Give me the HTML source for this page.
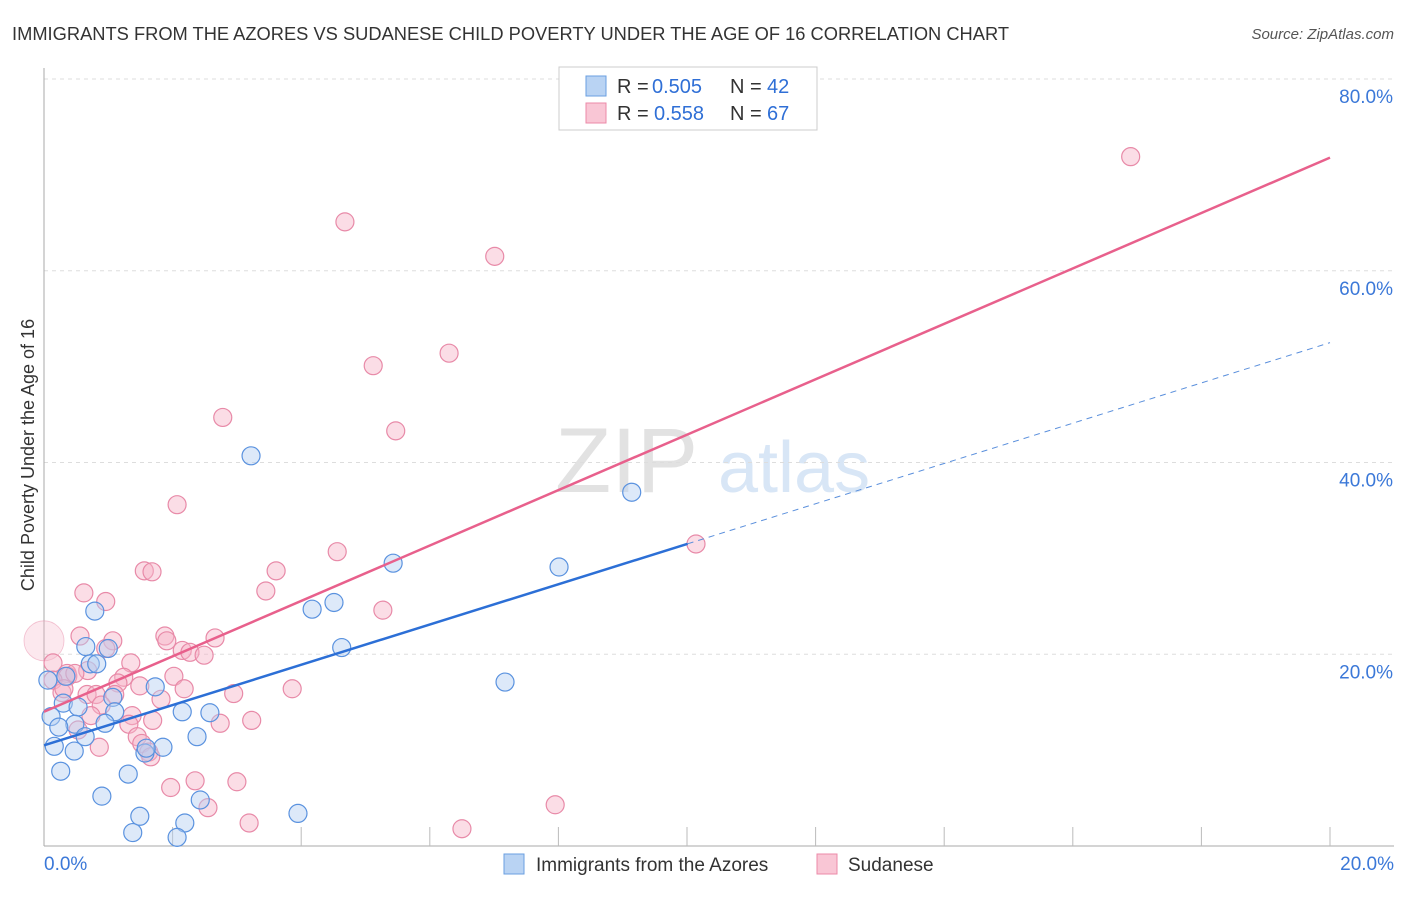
<!DOCTYPE html>
<html><head><meta charset="utf-8"><style>
body{margin:0;background:#fff;font-family:"Liberation Sans",sans-serif}
svg text{font-family:"Liberation Sans",sans-serif}
</style></head><body>
<svg width="1406" height="892">
<text x="12" y="40" font-size="18.3" fill="#333" textLength="997">IMMIGRANTS FROM THE AZORES VS SUDANESE CHILD POVERTY UNDER THE AGE OF 16 CORRELATION CHART</text>
<text x="1394" y="39" font-size="15" fill="#555" text-anchor="end" font-style="italic">Source: ZipAtlas.com</text>
<text x="555" y="492" font-size="92" fill="#e2e2e2" font-family="Liberation Serif">ZIP</text>
<text x="718" y="492" font-size="72" fill="#d8e6f6">atlas</text>
<g id="grid"></g><g id="axes"></g><g id="pts"></g><g id="lines"></g>
<text transform="translate(34,455) rotate(-90)" font-size="18" fill="#333" text-anchor="middle">Child Poverty Under the Age of 16</text>
<g>
<rect x="559" y="67" width="258" height="63" fill="#fff" stroke="#ccc"/>
<rect x="586" y="76" width="20" height="20" fill="#b9d3f3" stroke="#6a9fe0"/>
<rect x="586" y="103" width="20" height="20" fill="#f9c6d5" stroke="#ec8aa8"/>
<text y="93" font-size="20" fill="#333"><tspan x="617">R = </tspan><tspan x="652" fill="#2f6fd6">0.505</tspan><tspan x="730">N = </tspan><tspan x="767" fill="#2f6fd6">42</tspan></text>
<text y="120" font-size="20" fill="#333"><tspan x="617">R = </tspan><tspan x="654" fill="#2f6fd6">0.558</tspan><tspan x="730">N = </tspan><tspan x="767" fill="#2f6fd6">67</tspan></text>
</g>
<g>
<rect x="504" y="854" width="20" height="20" fill="#b9d3f3" stroke="#6a9fe0"/>
<text x="536" y="871" font-size="19" fill="#333">Immigrants from the Azores</text>
<rect x="817" y="854" width="20" height="20" fill="#f9c6d5" stroke="#ec8aa8"/>
<text x="848" y="871" font-size="19" fill="#333">Sudanese</text>
</g>
</svg>
<script>
const yTicks=[20,40,60,80];
const xTickLabels=["0.0%","20.0%"];
const blueX=[3.22,9.14,5.43,8.01,4.51,4.17,0.79,4.63,7.17,0.65,1.0,0.72,0.82,0.06,0.34,1.73,1.07,0.3,0.53,1.10,2.15,2.58,0.11,0.48,0.95,0.23,0.64,2.38,0.16,1.85,0.47,1.57,1.59,0.26,1.31,0.9,2.43,1.49,3.95,2.19,1.38,2.07];
const blueY=[40.7,36.9,29.5,29.1,25.4,24.7,24.5,20.7,17.1,20.8,20.6,19.0,19.0,17.3,17.7,16.6,15.5,14.9,14.5,14.0,14.0,13.9,13.5,12.7,12.8,12.4,11.4,11.4,10.4,10.3,9.9,9.7,10.2,7.8,7.5,5.2,4.8,3.1,3.4,2.4,1.4,0.9];
const pinkX=[16.9,4.68,7.01,5.12,6.30,2.78,5.47,2.07,10.14,4.56,1.56,1.68,3.61,3.45,0.62,0.96,5.27,0,0.56,1.07,1.88,1.91,2.66,2.15,2.27,2.49,0.96,1.35,0.14,0.36,0.37,0.68,2.02,1.24,1.15,0.14,2.18,3.86,0.28,0.67,0.81,1.10,2.95,1.82,0.89,0.73,1.37,1.69,3.23,2.74,1.32,0.53,1.45,1.52,1.63,0.86,1.66,2.35,3.0,1.97,2.55,7.95,3.19,6.5,0.31,1.49,0.48];
const pinkY=[71.9,65.1,61.5,50.1,51.4,44.7,43.3,35.6,31.5,30.7,28.7,28.6,28.7,26.6,26.4,25.5,24.6,21.4,21.9,21.4,21.9,21.4,21.7,20.4,20.2,19.9,20.6,19.1,19.1,18.0,17.7,18.3,17.7,17.6,17.0,17.3,16.4,16.4,16.0,15.8,15.8,15.8,15.9,15.3,14.7,13.6,13.6,13.1,13.1,12.8,12.7,12.1,11.4,10.7,9.8,10.3,9.3,6.8,6.7,6.1,4.0,4.3,2.4,1.8,16.4,16.7,18.0];
const blueTrend=[10.5,2.1];
const pinkTrend=[14.0,2.89];
const NS="http://www.w3.org/2000/svg";
const X0=44,X1=1330,Y0=846,Y80=79;
const sx=v=>X0+(v/20)*(X1-X0);
const sy=v=>Y0-(v/80)*(Y0-Y80);
function mk(t,a,p){const e=document.createElementNS(NS,t);for(const k in a)e.setAttribute(k,a[k]);p.appendChild(e);return e;}
const grid=document.getElementById('grid'),axes=document.getElementById('axes');
yTicks.forEach(t=>{
 const l=mk('line',{x1:X0,x2:1394,y1:sy(t),y2:sy(t),stroke:'#ddd','stroke-dasharray':'4,4'},grid);
 
 
 const tx=mk('text',{x:1393,y:sy(t)+24,'font-size':19,fill:'#3b78d8','text-anchor':'end'},axes);
 tx.textContent=t.toFixed(1)+'%';
 
 
});
const ax=mk('line',{x1:X0,x2:1394,y1:Y0,y2:Y0,stroke:'#aaa'},axes);


const ay=mk('line',{x1:X0,x2:X0,y1:68,y2:Y0,stroke:'#aaa'},axes);


for(let i=1;i<=10;i++){const t=mk('line',{x1:sx(i*2),x2:sx(i*2),y1:827,y2:Y0,stroke:'#bbb'},axes);
 
 }
[[0,'start',44],[20,'end',1394]].forEach((d,i)=>{const t=mk('text',{x:d[2],y:870,'font-size':19,fill:'#3b78d8','text-anchor':d[1]},axes);t.textContent=xTickLabels[i];
 
 });
const pts=document.getElementById('pts');
function dots(xs,ys,fill,stroke,name){xs.forEach((x,i)=>{const big=(name==='sudanese-point'&&x===0&&ys[i]>21&&ys[i]<22);
 const c=mk('circle',{cx:sx(x),cy:sy(ys[i]),r:big?20:9,fill:fill,'fill-opacity':big?0.3:0.45,stroke:stroke,'stroke-width':big?0.8:1.2,'stroke-opacity':big?0.5:1},pts);
 
 });}
dots(pinkX,pinkY,'#f6b3c7','#e88aa8','sudanese-point');
dots(blueX,blueY,'#b4cff2','#5a92df','azores-point');
const lines=document.getElementById('lines');
const f=(tr,x)=>tr[0]+tr[1]*x;
const bl=mk('line',{x1:sx(0),y1:sy(f(blueTrend,0)),x2:sx(10.01),y2:sy(f(blueTrend,10.01)),stroke:'#2c6fd6','stroke-width':2.5},lines);


const bd=mk('line',{x1:sx(10.01),y1:sy(f(blueTrend,10.01)),x2:sx(20),y2:sy(f(blueTrend,20)),stroke:'#5a8fdc','stroke-width':1,'stroke-dasharray':'6,5'},lines);


const pl=mk('line',{x1:sx(0),y1:sy(f(pinkTrend,0)),x2:sx(20),y2:sy(f(pinkTrend,20)),stroke:'#e8608c','stroke-width':2.5},lines);


</script>
</body></html>
